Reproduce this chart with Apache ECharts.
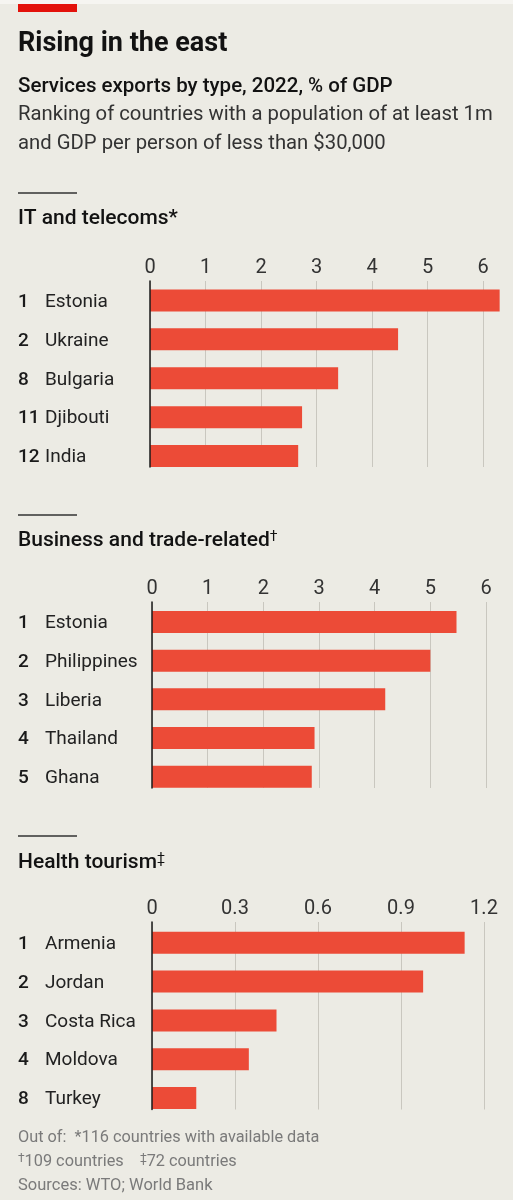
<!DOCTYPE html>
<html>
<head>
<meta charset="utf-8">
<script src="https://cdn.jsdelivr.net/npm/echarts@6/dist/echarts.min.js"></script>
<style>
  html, body { margin: 0; padding: 0; background: #ECEBE4; }
  #main { width: 513px; height: 1200px; }
</style>
</head>
<body>
<div id="main"></div>
<script>
// IT and telecoms
var itNames = ['Estonia', 'Ukraine', 'Bulgaria', 'Djibouti', 'India'];
var itRanks = [1, 2, 8, 11, 12];
var itValues = [6.3, 4.47, 3.39, 2.74, 2.67];

// Business and trade-related
var bizNames = ['Estonia', 'Philippines', 'Liberia', 'Thailand', 'Ghana'];
var bizRanks = [1, 2, 3, 4, 5];
var bizValues = [5.47, 5.0, 4.19, 2.92, 2.87];

// Health tourism
var healthNames = ['Armenia', 'Jordan', 'Costa Rica', 'Moldova', 'Turkey'];
var healthRanks = [1, 2, 3, 4, 8];
var healthValues = [1.13, 0.98, 0.45, 0.35, 0.16];

// axis ranges (max, step)
var itAxis = [6, 1];
var bizAxis = [6, 1];
var healthAxis = [1.2, 0.3];

var FONT = 'Roboto';
var RED = '#EC4B37';
var INK = '#1a1a1a';

var chart = echarts.init(document.getElementById('main'), null, { renderer: 'canvas' });

var grids = [], xAxes = [], yAxes = [], series = [];

// one panel = a grid for ticks/gridlines + a grid for the bars
function addPanel(names, ranks, values, axis, pos) {
  var gAxis = grids.length;
  grids.push({ left: pos.left, right: pos.right, top: pos.top, height: pos.lineH });
  grids.push({ left: pos.left, right: pos.right, top: pos.barTop, height: pos.band * 5 });

  xAxes.push({
    gridIndex: gAxis, type: 'value', position: 'top',
    min: 0, max: axis[0], interval: axis[1],
    axisLine: { show: false }, axisTick: { show: false },
    axisLabel: { color: '#333', fontFamily: FONT, fontSize: 20, margin: 3 },
    splitLine: { show: true, lineStyle: { color: '#C9C7BF', width: 1 } }
  });
  yAxes.push({
    gridIndex: gAxis, type: 'value', min: 0, max: 1, z: 5,
    axisLine: { show: true, lineStyle: { color: INK, width: 1.5 } },
    axisTick: { show: false }, axisLabel: { show: false }, splitLine: { show: false }
  });

  xAxes.push({ gridIndex: gAxis + 1, type: 'value', min: 0, max: axis[0], show: false });
  yAxes.push({
    gridIndex: gAxis + 1, type: 'category', inverse: true, data: names,
    axisLine: { show: false }, axisTick: { show: false },
    axisLabel: {
      align: 'left', margin: pos.left - 18,
      formatter: function (value, index) {
        return '{r|' + ranks[index] + '}{n|' + value + '}';
      },
      rich: {
        r: { width: 27, fontFamily: FONT, fontSize: 19, fontWeight: 500, color: INK, padding: [3, 0, 0, 0] },
        n: { fontFamily: FONT, fontSize: 19, color: '#222', padding: [3, 0, 0, 0] }
      }
    }
  });

  series.push({
    type: 'bar', xAxisIndex: gAxis + 1, yAxisIndex: gAxis + 1,
    data: values, barWidth: 22, clip: false,
    itemStyle: { color: RED }, silent: true
  });
}

addPanel(itNames, itRanks, itValues, itAxis,
  { left: 150, right: 30, top: 281, lineH: 186, barTop: 281, band: 38.9 });
addPanel(bizNames, bizRanks, bizValues, bizAxis,
  { left: 152, right: 27, top: 602, lineH: 186, barTop: 602.6, band: 38.7 });
addPanel(healthNames, healthRanks, healthValues, healthAxis,
  { left: 152, right: 29, top: 922, lineH: 187.5, barTop: 923.4, band: 38.8 });

function txt(str, y, size, weight, color, rich) {
  return {
    type: 'text', x: 18, y: y, z: 10,
    style: {
      text: str, fill: color, fontFamily: FONT, fontSize: size, fontWeight: weight,
      verticalAlign: 'middle', rich: rich || {}
    }
  };
}
function rule(y) {
  return { type: 'rect', shape: { x: 18, y: y - 0.75, width: 59, height: 1.5 }, style: { fill: '#333' } };
}
function supStyle(size, color) {
  return { fontFamily: FONT, fontSize: size, fill: color, color: color, verticalAlign: 'top', padding: [0, 0, 7, 0] };
}

var graphics = [
  { type: 'rect', shape: { x: 0, y: 0, width: 513, height: 4 }, style: { fill: '#F6F5F1' } },
  { type: 'rect', shape: { x: 18, y: 4, width: 59, height: 8 }, style: { fill: '#E3120B' } },
  txt('Rising in the east', 44, 27, 'bold', '#121212'),
  txt('Services exports by type, 2022, % of GDP', 87, 20.5, 500, '#121212'),
  txt('Ranking of countries with a population of at least 1m', 115, 20.3, 'normal', '#333'),
  txt('and GDP per person of less than $30,000', 144, 20.3, 'normal', '#333'),
  rule(193),
  txt('IT and telecoms*', 219, 21, 500, '#121212'),
  rule(515),
  txt('Business and trade-related{s|†}', 541, 21, 500, '#121212', { s: supStyle(14, '#121212') }),
  rule(836),
  txt('Health tourism{s|‡}', 863, 21, 500, '#121212', { s: supStyle(14, '#121212') }),
  txt('Out of:  *116 countries with available data', 1138, 16.3, 'normal', '#7a7a7a'),
  txt('{s|†}109 countries    {s|‡}72 countries', 1162, 16.3, 'normal', '#7a7a7a', { s: supStyle(12, '#7a7a7a') }),
  txt('Sources: WTO; World Bank', 1186, 16.5, 'normal', '#7a7a7a')
];

chart.setOption({
  backgroundColor: '#ECEBE4',
  animation: false,
  grid: grids,
  xAxis: xAxes,
  yAxis: yAxes,
  series: series,
  graphic: graphics
});
</script>
</body>
</html>
